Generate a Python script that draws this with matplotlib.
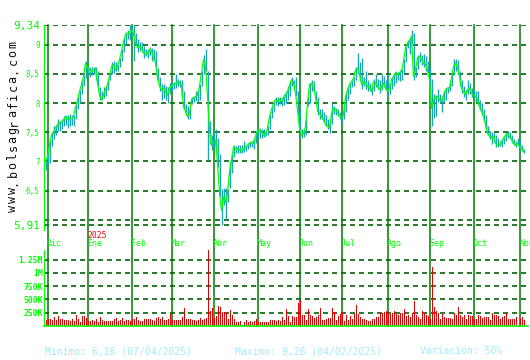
import numpy as np
import matplotlib
matplotlib.use("Agg")
from matplotlib import pyplot as plt

# daily closes (one per trading day, Dec 2024 -> Nov 2025)
close = [
    6.99, 7.08, 7.28, 7.45, 7.51, 7.57, 7.63, 7.66, 7.68, 7.71,
    7.77, 7.72, 7.74, 7.73, 7.77, 7.93, 8.06, 8.20, 8.32, 8.46,
    8.69, 8.60, 8.57, 8.52, 8.57, 8.60, 8.34, 8.14, 8.06, 8.14,
    8.23, 8.32, 8.46, 8.63, 8.66, 8.57, 8.63, 8.75, 8.89, 9.06,
    9.18, 9.20, 9.18, 9.26, 9.21, 9.03, 8.95, 8.98, 8.95, 8.86,
    8.83, 8.86, 8.92, 8.89, 8.78, 8.69, 8.43, 8.29, 8.23, 8.26,
    8.20, 8.14, 8.26, 8.29, 8.32, 8.34, 8.37, 8.34, 8.29, 7.94,
    7.86, 7.77, 7.83, 8.06, 8.09, 8.11, 8.14, 8.29, 8.52, 8.75,
    8.63, 8.11, 7.54, 7.28, 7.34, 7.37, 6.97, 6.45, 6.16, 6.39,
    6.30, 6.45, 6.82, 7.02, 7.25, 7.22, 7.20, 7.20, 7.18, 7.22,
    7.25, 7.28, 7.31, 7.32, 7.31, 7.43, 7.54, 7.54, 7.51, 7.45,
    7.48, 7.57, 7.77, 7.89, 8.00, 8.06, 8.03, 8.06, 8.03, 8.09,
    8.14, 8.20, 8.29, 8.40, 8.37, 8.17, 7.89, 7.57, 7.45, 7.48,
    7.60, 8.00, 8.32, 8.34, 8.26, 8.11, 7.86, 7.83, 7.77, 7.71,
    7.63, 7.60, 7.57, 7.83, 7.91, 7.89, 7.83, 7.77, 7.74, 7.80,
    8.11, 8.23, 8.32, 8.37, 8.43, 8.57, 8.60, 8.49, 8.32, 8.37,
    8.34, 8.29, 8.26, 8.20, 8.37, 8.34, 8.29, 8.23, 8.29, 8.34,
    8.26, 8.20, 8.26, 8.40, 8.46, 8.52, 8.49, 8.52, 8.55, 8.72,
    8.95, 9.03, 9.06, 9.15, 8.46, 8.57, 8.78, 8.80, 8.75, 8.69,
    8.66, 8.57, 8.40, 7.91, 8.06, 8.11, 8.11, 8.06, 8.03, 8.14,
    8.23, 8.26, 8.26, 8.43, 8.63, 8.69, 8.60, 8.46, 8.26, 8.20,
    8.14, 8.23, 8.26, 8.17, 8.14, 8.11, 8.06, 7.94, 7.86, 7.77,
    7.63, 7.48, 7.43, 7.40, 7.43, 7.31, 7.28, 7.28, 7.34, 7.40,
    7.45, 7.48, 7.43, 7.37, 7.31, 7.28, 7.31, 7.25, 7.22, 7.17,
]
high = [
    7.02, 7.22, 7.35, 7.50, 7.60, 7.62, 7.72, 7.70, 7.72, 7.78,
    7.80, 7.80, 7.82, 7.80, 7.80, 7.97, 8.10, 8.22, 8.40, 8.48,
    8.72, 8.66, 8.62, 8.62, 8.62, 8.62, 8.55, 8.28, 8.20, 8.28,
    8.28, 8.38, 8.55, 8.70, 8.72, 8.70, 8.66, 8.78, 8.92, 9.10,
    9.22, 9.26, 9.34, 9.34, 9.34, 9.20, 9.10, 9.04, 9.05, 8.98,
    8.92, 8.92, 8.96, 8.95, 8.92, 8.90, 8.60, 8.45, 8.32, 8.33,
    8.30, 8.28, 8.34, 8.38, 8.36, 8.50, 8.42, 8.40, 8.40, 8.20,
    7.98, 7.95, 7.90, 8.10, 8.12, 8.20, 8.20, 8.32, 8.55, 8.82,
    8.92, 8.55, 7.70, 7.45, 7.50, 7.55, 7.40, 7.12, 6.52, 6.55,
    6.55, 6.50, 7.00, 7.12, 7.28, 7.27, 7.28, 7.28, 7.28, 7.35,
    7.28, 7.32, 7.35, 7.35, 7.40, 7.48, 7.55, 7.58, 7.56, 7.55,
    7.52, 7.60, 7.80, 7.94, 8.02, 8.10, 8.10, 8.10, 8.10, 8.16,
    8.20, 8.30, 8.38, 8.44, 8.40, 8.45, 8.20, 7.88, 7.55, 7.55,
    7.72, 8.10, 8.35, 8.40, 8.38, 8.20, 8.10, 7.90, 7.90, 7.85,
    7.80, 7.72, 7.68, 8.00, 7.95, 7.92, 7.90, 7.85, 7.80, 7.95,
    8.15, 8.26, 8.35, 8.40, 8.45, 8.62, 8.86, 8.70, 8.78, 8.45,
    8.55, 8.40, 8.35, 8.30, 8.42, 8.50, 8.42, 8.40, 8.50, 8.46,
    8.40, 8.50, 8.35, 8.45, 8.52, 8.55, 8.54, 8.56, 8.58, 8.75,
    8.98, 9.08, 9.12, 9.26, 9.20, 8.62, 8.82, 8.88, 8.82, 8.85,
    8.80, 8.72, 8.62, 8.42, 8.15, 8.14, 8.25, 8.15, 8.12, 8.20,
    8.26, 8.28, 8.40, 8.50, 8.75, 8.75, 8.74, 8.55, 8.40, 8.30,
    8.22, 8.40, 8.35, 8.26, 8.22, 8.20, 8.20, 8.05, 8.00, 7.90,
    7.80, 7.60, 7.52, 7.50, 7.48, 7.45, 7.40, 7.35, 7.38, 7.42,
    7.48, 7.52, 7.50, 7.45, 7.38, 7.35, 7.40, 7.35, 7.28, 7.22,
]
low = [
    6.85, 6.94, 6.97, 7.27, 7.38, 7.45, 7.52, 7.52, 7.55, 7.60,
    7.62, 7.58, 7.60, 7.62, 7.60, 7.72, 7.90, 8.00, 8.15, 8.30,
    8.43, 8.50, 8.45, 8.48, 8.50, 8.40, 8.30, 8.05, 8.05, 8.08,
    8.12, 8.22, 8.40, 8.50, 8.52, 8.55, 8.55, 8.62, 8.72, 8.88,
    9.02, 9.10, 9.08, 9.15, 8.72, 9.00, 8.88, 8.90, 8.88, 8.78,
    8.80, 8.78, 8.82, 8.72, 8.72, 8.62, 8.40, 8.20, 8.05, 8.08,
    8.05, 8.00, 8.16, 8.20, 8.24, 8.26, 8.30, 8.28, 8.10, 7.90,
    7.80, 7.72, 7.72, 7.98, 8.02, 8.04, 8.02, 8.06, 8.30, 8.50,
    8.55, 7.02, 7.30, 7.20, 7.25, 7.12, 6.90, 6.40, 5.91, 6.25,
    6.02, 6.30, 6.55, 6.80, 7.08, 7.15, 7.15, 7.15, 7.15, 7.16,
    7.18, 7.22, 7.24, 7.25, 7.22, 7.32, 7.42, 7.40, 7.40, 7.42,
    7.44, 7.46, 7.55, 7.75, 7.85, 7.96, 7.95, 7.98, 7.95, 7.96,
    8.00, 8.05, 8.12, 8.30, 8.22, 8.12, 7.82, 7.50, 7.40, 7.42,
    7.45, 7.95, 8.00, 8.20, 8.20, 8.00, 7.80, 7.72, 7.72, 7.68,
    7.60, 7.55, 7.48, 7.65, 7.82, 7.80, 7.78, 7.72, 7.65, 7.72,
    7.85, 8.05, 8.15, 8.28, 8.30, 8.40, 8.50, 8.38, 8.25, 8.30,
    8.25, 8.20, 8.20, 8.14, 8.20, 8.28, 8.25, 8.18, 8.22, 8.28,
    8.22, 8.10, 8.15, 8.25, 8.30, 8.35, 8.40, 8.38, 8.40, 8.52,
    8.70, 8.95, 8.85, 9.02, 8.40, 8.45, 8.58, 8.70, 8.65, 8.62,
    8.55, 8.52, 8.00, 7.60, 7.75, 7.78, 8.02, 8.00, 7.85, 8.02,
    8.05, 8.18, 8.20, 8.30, 8.48, 8.55, 8.50, 8.30, 8.18, 8.10,
    8.05, 8.15, 8.16, 8.10, 8.08, 8.00, 7.96, 7.88, 7.80, 7.70,
    7.55, 7.45, 7.38, 7.30, 7.33, 7.25, 7.25, 7.26, 7.25, 7.30,
    7.35, 7.40, 7.38, 7.32, 7.28, 7.25, 7.28, 7.20, 7.18, 7.14,
]
# daily volume, thousands of shares
volume = [
    112, 137, 125, 112, 169, 112, 187, 137, 125, 112,
    112, 112, 100, 131, 100, 206, 131, 81, 187, 187,
    150, 94, 94, 112, 100, 125, 81, 162, 112, 100,
    87, 100, 87, 94, 131, 150, 100, 112, 150, 100,
    112, 112, 100, 125, 137, 175, 112, 87, 100, 125,
    131, 131, 131, 112, 100, 150, 175, 137, 169, 112,
    112, 125, 225, 112, 112, 112, 112, 112, 162, 337,
    125, 125, 137, 112, 112, 100, 112, 150, 112, 125,
    150, 1425, 287, 337, 144, 187, 375, 350, 262, 262,
    237, 137, 300, 212, 137, 75, 75, 87, 12, 81,
    112, 75, 100, 75, 87, 137, 75, 75, 75, 75,
    75, 75, 112, 112, 112, 87, 112, 100, 175, 112,
    319, 187, 75, 187, 175, 162, 425, 487, 206, 206,
    112, 319, 200, 187, 150, 175, 200, 337, 112, 112,
    137, 150, 150, 337, 262, 112, 187, 225, 262, 100,
    200, 112, 187, 125, 225, 394, 225, 175, 137, 125,
    112, 100, 100, 125, 125, 162, 162, 250, 250, 262,
    287, 237, 225, 250, 275, 225, 200, 250, 237, 325,
    187, 200, 162, 237, 475, 200, 162, 137, 275, 237,
    200, 187, 125, 1112, 350, 275, 237, 137, 225, 162,
    144, 144, 144, 137, 250, 200, 362, 200, 162, 200,
    125, 200, 187, 187, 137, 137, 200, 187, 150, 162,
    175, 175, 112, 250, 200, 212, 187, 125, 162, 187,
    250, 137, 125, 125, 137, 175, 12, 150, 162, 112,
]

months = ["Dic", "Ene", "Feb", "Mar", "Abr", "May", "Jun",
          "Jul", "Ago", "Sep", "Oct", "Nov"]
month_start = [1, 21, 43, 63, 84, 106, 127, 148, 171, 192, 214, 237]

price_grid = [9.34, 9, 8.5, 8, 7.5, 7, 6.5, 6, 5.91]
price_ticks = [9.34, 9, 8.5, 8, 7.5, 7, 6.5, 5.91]
price_labels = ["9,34", "9", "8,5", "8", "7,5", "7", "6,5", "5,91"]
vol_ticks = [250, 500, 750, 1000, 1250]
vol_labels = ["250K", "500K", "750K", "1M", "1.25M"]

plt.rcParams['font.family'] = ['DejaVu Sans Mono']
LIME = '#00ff00'
DKGREEN = '#006400'
MGREEN = '#007c00'

W, H = 530, 360
fig = plt.figure(figsize=(W / 100, H / 100), dpi=100)
fig.patch.set_facecolor('white')

days = np.arange(len(close))
x0, x1 = -0.75, 241.25
axl, axr = 44 / W, 528 / W

# ---- price panel ----
ptop, pbot = 25, 230
ax = fig.add_axes([axl, 1 - pbot / H, axr - axl, (pbot - ptop) / H])
ax.set_facecolor('none')
ax.set_xlim(x0, x1)
ax.set_ylim(5.91 - 5 / 58, 9.34)
for s in ['top', 'right', 'bottom']:
    ax.spines[s].set_visible(False)
ax.spines['left'].set_color(LIME)
ax.spines['left'].set_linewidth(0.8)
ax.set_xticks([])

for g in price_grid:
    ax.axhline(g, color=DKGREEN, lw=1.2, dashes=(3, 2.4), zorder=1)
ext = -(326 - pbot) / (pbot - ptop)
for m in month_start:
    ax.axvline(m, ymin=ext, ymax=1, color=MGREEN, lw=1.1, clip_on=False, zorder=1)

ax.vlines(days, low, high, color='#1fa6b4', lw=1.0, zorder=2)
ax.plot(days, close, color=LIME, lw=0.9, zorder=3)

ax.set_yticks(price_ticks, price_labels)
ax.tick_params(axis='y', length=0, pad=3, colors=LIME)
for lbl in ax.get_yticklabels():
    big = lbl.get_text() in ("9,34", "5,91")
    lbl.set_fontsize(8 if big else 5.5)

for m, name in zip(month_start, months):
    ax.text(m - 0.3, -(244 - pbot) / (pbot - ptop), name, transform=ax.get_xaxis_transform(),
            color=LIME, fontsize=6, ha='left', va='center')
ax.text(month_start[1] - 0.2, -(235.5 - pbot) / (pbot - ptop), "2025",
        transform=ax.get_xaxis_transform(), color='#ff0000', fontsize=5.8,
        ha='left', va='center')

# spaced-out watermark, one glyph at a time
site = "www.bolsagrafica.com"
for k, ch in enumerate(site):
    yk = 208 - k * 8.6
    fig.text(13 / W, 1 - yk / H, ch, rotation=90, fontsize=8.5,
             color='#111111', ha='center', va='center')

# ---- volume panel ----
vtop, vbot = 250, 326
vx = fig.add_axes([axl, 1 - vbot / H, axr - axl, (vbot - vtop) / H])
vx.set_facecolor('none')
vx.set_xlim(x0, x1)
vx.set_ylim(0, (vbot - vtop) / 13.3 * 250)
for s in ['top', 'right']:
    vx.spines[s].set_visible(False)
vx.spines['left'].set_color(LIME)
vx.spines['bottom'].set_color(LIME)
vx.spines['left'].set_linewidth(0.8)
vx.spines['bottom'].set_linewidth(1.2)
vx.set_xticks([])
for g in vol_ticks:
    vx.axhline(g, color=DKGREEN, lw=1.2, dashes=(3, 2.4), zorder=1)
vx.vlines(days, 0, volume, color='#e00000', lw=0.72, antialiased=False, zorder=2)
vx.set_yticks(vol_ticks, vol_labels)
vx.tick_params(axis='y', length=0, pad=1, colors=LIME, labelsize=5.8)
for lbl in vx.get_yticklabels():
    lbl.set_fontweight('bold')

# ---- footer ----
foot = '#a0ecfa'
fig.text(45 / W, 1 - 351.5 / H, "Minimo: 6,16 (07/04/2025)", color=foot,
         fontsize=7, va='center', ha='left')
fig.text(235 / W, 1 - 351.5 / H, "Maximo: 9,26 (04/02/2025)", color=foot,
         fontsize=7, va='center', ha='left')
fig.text(420 / W, 1 - 351.5 / H, "Variación: 50%", color=foot,
         fontsize=7, va='center', ha='left')

fig.savefig('out.png', dpi=100)
